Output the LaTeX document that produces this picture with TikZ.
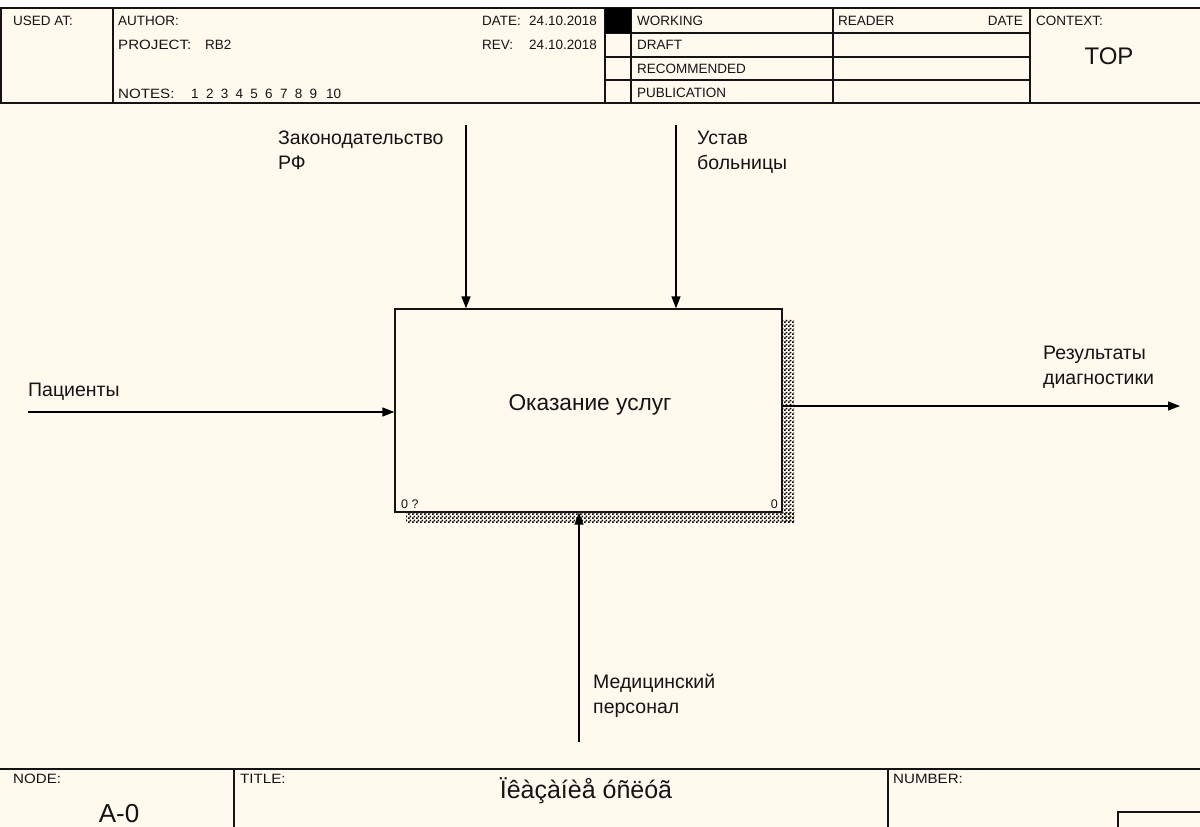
\documentclass[tikz,border=0pt]{standalone}
\usepackage{fontspec}
\setmainfont{Liberation Sans}
\newfontfamily\widesans[FakeStretch=1.12]{Liberation Sans}
\usetikzlibrary{arrows.meta,patterns}
\definecolor{paper}{RGB}{255,249,238}
\definecolor{ink}{RGB}{20,20,20}
\pgfdeclarepatternformonly{dither}{\pgfpointorigin}{\pgfpoint{4pt}{4pt}}{\pgfpoint{4pt}{4pt}}{%
  \pgfpathrectangle{\pgfpointorigin}{\pgfpoint{2pt}{2pt}}%
  \pgfpathrectangle{\pgfpoint{2pt}{2pt}}{\pgfpoint{2pt}{2pt}}%
  \pgfusepath{fill}}
\tikzset{
  hdr/.style={font=\fontsize{13.5}{15}\selectfont, inner sep=0pt, anchor=base west, text=ink},
  hdrw/.style={font=\widesans\fontsize{13.5}{15}\selectfont, inner sep=0pt, anchor=base west, text=ink},
  ftr/.style={font=\widesans\fontsize{13.5}{15}\selectfont, inner sep=0pt, anchor=base west, text=ink},
  lbl/.style={font=\fontsize{19.5}{25}\selectfont, inner sep=0pt, anchor=base west, text=ink},
  frame/.style={line width=1.3pt, draw=ink},
  arr/.style={line width=1.3pt, draw=black, -{Triangle[length=12pt,width=9pt]}},
  shade/.style={pattern=dither, pattern color=black},
}
\begin{document}
\begin{tikzpicture}[x=1pt,y=-1pt]
\useasboundingbox (0,0) rectangle (1200,827);
\fill[paper] (0,0) rectangle (1200,827);
\fill[white] (0,0) rectangle (1200,8);

% ---------- header ----------
\draw[frame] (0,8) -- (1200,8);
\draw[frame] (0,103) -- (1200,103);
\draw[frame] (1,8) -- (1,103);
\draw[frame] (113,8) -- (113,103);
\draw[frame] (605,8) -- (605,103);
\draw[frame] (631,8) -- (631,103);
\draw[frame] (833,8) -- (833,103);
\draw[frame] (1030,8) -- (1030,103);
\foreach \yy in {33,57,80} \draw[frame] (605,\yy) -- (1030,\yy);
\fill[black] (605,8) rectangle (631,33);

\node[hdr] (usedat) at (13,25) {USED AT:};
\node[hdr] (author) at (118,25) {AUTHOR:};
\node[hdrw] (project) at (118,49) {PROJECT:};
\node[hdr] (rb2) at (205,49) {RB2};
\node[hdrw] (notes) at (118,98) {NOTES:};
\foreach \n [count=\i from 0] in {1,...,9} \node[hdr] (note\n) at ({191+14.8*\i},98) {\n};
\node[hdr] (note10) at (326,98) {10};
\node[hdr] (date) at (482,25) {DATE:};
\node[hdr, anchor=base east] (dateval) at (597,25) {24.10.2018};
\node[hdr] (rev) at (482,49) {REV:};
\node[hdr, anchor=base east] (revval) at (597,49) {24.10.2018};
\node[hdr] (working) at (637,25) {WORKING};
\node[hdr] (draft) at (637,49) {DRAFT};
\node[hdr] (recommended) at (637,73) {RECOMMENDED};
\node[hdr] (publication) at (637,97) {PUBLICATION};
\node[hdr] (reader) at (838,25) {READER};
\node[hdr, anchor=base east] (rdate) at (1023,25) {DATE};
\node[hdr] (context) at (1036,25) {CONTEXT:};
\node[font=\fontsize{24}{26}\selectfont, inner sep=0pt, anchor=base, text=ink] (top) at (1109,64) {TOP};

% ---------- activity box ----------
\fill[shade] (782,319) rectangle (794,522);
\fill[shade] (406,512) rectangle (794,522);
\node[draw=ink, line width=1.3pt, fill=paper, minimum width=387pt, minimum height=203pt, inner sep=0pt] (box) at (588.5,410.5) {};
\node[font=\fontsize{22.7}{25}\selectfont, inner sep=0pt, anchor=base, text=ink] (boxname) at (590,410) {Оказание услуг};
\node[font=\fontsize{12.5}{14}\selectfont, inner sep=0pt, anchor=base west, text=ink] (boxnum) at (401,508) {0 ?};
\node[font=\fontsize{12.5}{14}\selectfont, inner sep=0pt, anchor=base east, text=ink] (boxid) at (778,508) {0};

% ---------- arrows ----------
\coordinate (c1) at (466,125);
\coordinate (c2) at (676,125);
\coordinate (in1) at (28,412);
\coordinate (out1) at (1180,406);
\coordinate (m1) at (579,742);
\draw[arr] (c1) -- (c1 |- box.north);
\draw[arr] (c2) -- (c2 |- box.north);
\draw[arr] (in1) -- (in1 -| box.west);
\draw[arr] (out1 -| box.east) -- (out1);
\draw[arr] (m1) -- (m1 |- box.south);

% ---------- labels ----------
\node[lbl, align=left, anchor=north west] (l1) at (278,131) {Законодательство\\РФ};
\node[lbl, align=left, anchor=north west] (l2) at (697,131) {Устав\\больницы};
\node[lbl] (l3) at (28,396) {Пациенты};
\node[lbl, align=left, anchor=north west] (l4) at (1043,346) {Результаты\\диагностики};
\node[lbl, align=left, anchor=north west] (l5) at (593,674) {Медицинский\\персонал};

% ---------- footer ----------
\draw[frame] (0,769) -- (1200,769);
\draw[frame] (234,769) -- (234,827);
\draw[frame] (888,769) -- (888,827);
\draw[frame] (1118,827) -- (1118,812) -- (1200,812);
\node[ftr] (node) at (13,783) {NODE:};
\node[font=\fontsize{26}{28}\selectfont, inner sep=0pt, anchor=base, text=ink] (a0) at (119,822) {A-0};
\node[ftr] (title) at (240,783) {TITLE:};
\node[font=\fontsize{25}{27}\selectfont, inner sep=0pt, anchor=base, text=ink] (ttl) at (586,798) {Ïêàçàíèå óñëóã};
\node[ftr] (number) at (893,783) {NUMBER:};
\end{tikzpicture}
\end{document}
